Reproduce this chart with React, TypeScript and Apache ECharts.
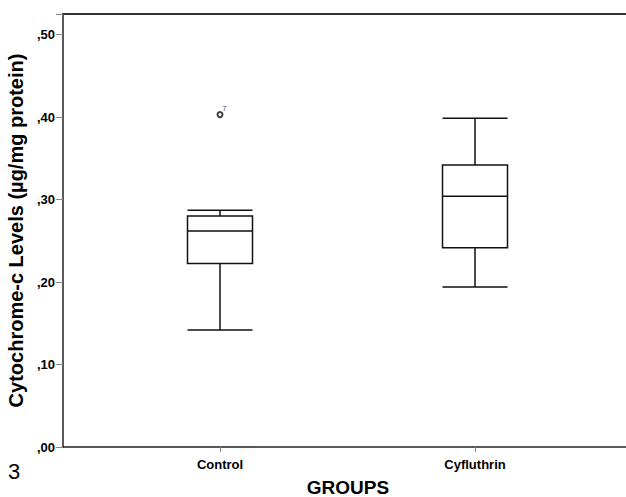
import React, { useEffect, useRef } from "react";
import * as echarts from "echarts";

const categories = ["Control", "Cyfluthrin"];
// [lower whisker, Q1, median, Q3, upper whisker]
const boxValues = [
  [0.142, 0.2225, 0.262, 0.28, 0.287],
  [0.194, 0.2415, 0.304, 0.342, 0.3985],
];
const outliers = [["Control", 0.403, "7"]];
const yTicks = [0, 0.1, 0.2, 0.3, 0.4, 0.5];

const FONT = "Liberation Sans, Arial, sans-serif";

export default function App() {
  const ref = useRef<HTMLDivElement>(null);
  useEffect(() => {
    if (!ref.current) return;
    const chart = echarts.init(ref.current, null, { renderer: "svg", width: 626, height: 497 });
    const fmt = (v: number) => "," + v.toFixed(2).split(".")[1];
    chart.setOption({
      animation: false,
      backgroundColor: "#ffffff",
      grid: [
        { left: 63, top: 14, width: 570, height: 433, outerBoundsMode: "none", containLabel: false },
        { left: 92.5, top: 14, width: 510, height: 433, outerBoundsMode: "none", containLabel: false },
      ],
      xAxis: [
        {
          gridIndex: 0,
          type: "value",
          position: "bottom",
          min: 0,
          max: 1,
          axisLine: { show: true, lineStyle: { color: "#222", width: 1.5 } },
          axisTick: { show: false },
          axisLabel: { show: false },
          splitLine: { show: false },
          name: "GROUPS",
          nameLocation: "middle",
          nameGap: 31,
          nameTextStyle: { fontFamily: FONT, fontWeight: "bold", fontSize: 19, lineHeight: 18, color: "#000" },
        },
        {
          gridIndex: 0,
          type: "value",
          position: "top",
          min: 0,
          max: 1,
          axisLine: { show: true, lineStyle: { color: "#333", width: 2 } },
          axisTick: { show: false },
          axisLabel: { show: false },
          splitLine: { show: false },
        },
        {
          gridIndex: 1,
          type: "category",
          data: categories,
          axisLine: { show: false },
          axisTick: { show: true, alignWithLabel: true, length: 5, lineStyle: { color: "#888", width: 1 } },
          axisLabel: { fontFamily: FONT, fontWeight: "bold", fontSize: 13, color: "#000", margin: 11 },
          splitLine: { show: false },
        },
      ],
      yAxis: [
        {
          gridIndex: 0,
          type: "value",
          min: 0,
          max: 0.525,
          interval: 0.1,
          axisLine: { show: true, lineStyle: { color: "#222", width: 1.5 } },
          axisTick: { show: true, length: 7, lineStyle: { color: "#888", width: 1 } },
          axisLabel: {
            formatter: (v: number) => (yTicks.some((t) => Math.abs(t - v) < 1e-6) ? fmt(v) : ""),
            fontFamily: FONT,
            fontWeight: "bold",
            fontSize: 13,
            color: "#000",
            margin: 8,
          },
          splitLine: { show: false },
          name: "Cytochrome-c Levels (µg/mg protein)",
          nameLocation: "middle",
          nameGap: 33,
          nameTextStyle: { fontFamily: FONT, fontWeight: "bold", fontSize: 20, color: "#000" },
        },
        {
          gridIndex: 1,
          type: "value",
          min: 0,
          max: 0.525,
          show: false,
        },
      ],
      graphic: [
        {
          type: "text",
          left: 8,
          top: 460,
          style: { text: "3", fontFamily: FONT, fontSize: 22, fill: "#000" },
        },
      ],
      series: [
        {
          type: "boxplot",
          xAxisIndex: 2,
          yAxisIndex: 1,
          data: boxValues,
          boxWidth: [65, 65],
          itemStyle: { color: "#fff", borderColor: "#111", borderWidth: 1.5 },
        },
        {
          type: "scatter",
          xAxisIndex: 2,
          yAxisIndex: 1,
          data: outliers.map((o) => [o[0], o[1]]),
          symbol: "emptyCircle",
          symbolSize: 5,
          itemStyle: { color: "#111", borderColor: "#111", borderWidth: 1.2 },
          label: {
            show: true,
            formatter: (p: any) => String(outliers[p.dataIndex][2]),
            position: [6, -6],
            fontFamily: FONT,
            fontSize: 7,
            color: "#000",
          },
        },
      ],
    });
    return () => chart.dispose();
  }, []);
  return (
    <div
      ref={ref}
      style={{ position: "fixed", left: 0, top: 0, width: 626, height: 497, background: "#fff" }}
    />
  );
}
